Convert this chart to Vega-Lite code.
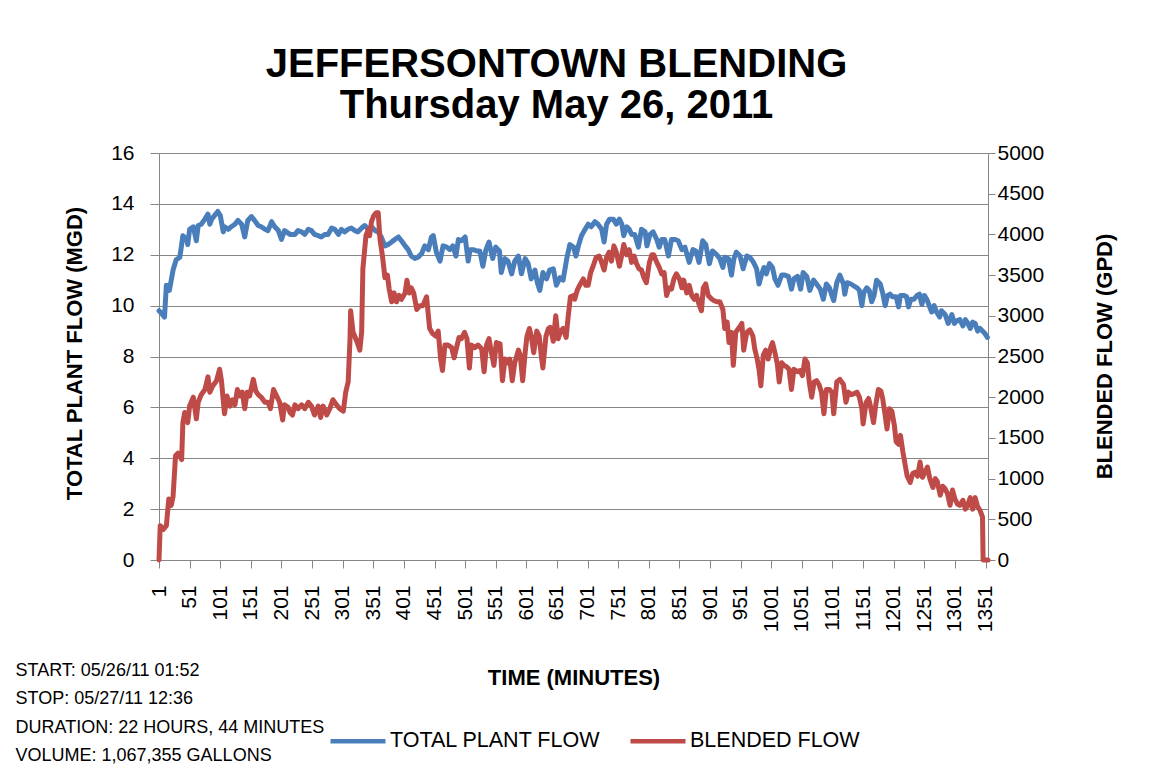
{
  "$schema": "https://vega.github.io/schema/vega-lite/v6.json",
  "width": 829,
  "height": 407,
  "autosize": {"type": "none"},
  "padding": {"left": 159, "top": 153, "right": 167, "bottom": 212},
  "background": "white",
  "config": {"view": {"stroke": null}, "font": "Liberation Sans"},
  "title": {
    "text": ["JEFFERSONTOWN BLENDING", "Thursday May 26, 2011"],
    "font": "Liberation Sans",
    "fontSize": 40,
    "fontWeight": "bold",
    "color": "#000000",
    "anchor": "middle",
    "frame": "group",
    "dx": -17,
    "lineHeight": 41,
    "offset": 16
  },
  "datasets": {
    "plant": [
      {"minute":1,"flow":9.8},{"minute":5,"flow":9.7},{"minute":10,"flow":9.55},{"minute":13,"flow":10.8},{"minute":18,"flow":10.6},{"minute":24,"flow":11.4},{"minute":29,"flow":11.8},{"minute":35,"flow":11.9},{"minute":38,"flow":12.4},{"minute":40,"flow":12.75},{"minute":46,"flow":12.6},{"minute":48,"flow":12.4},{"minute":51,"flow":13.0},{"minute":57,"flow":13.1},{"minute":62,"flow":12.55},{"minute":65,"flow":13.15},{"minute":70,"flow":13.2},{"minute":76,"flow":13.4},{"minute":81,"flow":13.6},{"minute":84,"flow":13.2},{"minute":87,"flow":13.4},{"minute":92,"flow":13.55},{"minute":97,"flow":13.7},{"minute":101,"flow":13.55},{"minute":106,"flow":12.9},{"minute":108,"flow":13.1},{"minute":114,"flow":13.0},{"minute":119,"flow":13.1},{"minute":125,"flow":13.2},{"minute":130,"flow":13.35},{"minute":136,"flow":13.2},{"minute":141,"flow":12.7},{"minute":146,"flow":13.35},{"minute":152,"flow":13.5},{"minute":157,"flow":13.35},{"minute":163,"flow":13.15},{"minute":168,"flow":13.1},{"minute":174,"flow":13.0},{"minute":179,"flow":12.95},{"minute":185,"flow":13.3},{"minute":190,"flow":13.1},{"minute":196,"flow":12.95},{"minute":201,"flow":12.6},{"minute":206,"flow":12.95},{"minute":215,"flow":12.8},{"minute":223,"flow":12.8},{"minute":228,"flow":12.95},{"minute":234,"flow":12.9},{"minute":239,"flow":12.8},{"minute":245,"flow":13.0},{"minute":250,"flow":12.95},{"minute":255,"flow":12.8},{"minute":261,"flow":12.75},{"minute":266,"flow":12.7},{"minute":272,"flow":12.8},{"minute":277,"flow":12.8},{"minute":283,"flow":13.05},{"minute":288,"flow":13.0},{"minute":294,"flow":12.8},{"minute":299,"flow":13.0},{"minute":304,"flow":12.9},{"minute":310,"flow":13.0},{"minute":315,"flow":13.05},{"minute":321,"flow":12.95},{"minute":326,"flow":12.9},{"minute":332,"flow":13.05},{"minute":337,"flow":13.15},{"minute":343,"flow":13.0},{"minute":348,"flow":13.1},{"minute":354,"flow":12.95},{"minute":359,"flow":12.9},{"minute":364,"flow":12.7},{"minute":370,"flow":12.35},{"minute":375,"flow":12.4},{"minute":381,"flow":12.5},{"minute":386,"flow":12.6},{"minute":392,"flow":12.7},{"minute":397,"flow":12.55},{"minute":403,"flow":12.35},{"minute":408,"flow":12.2},{"minute":413,"flow":11.95},{"minute":419,"flow":11.85},{"minute":424,"flow":11.9},{"minute":430,"flow":12.05},{"minute":435,"flow":12.35},{"minute":441,"flow":12.2},{"minute":446,"flow":12.7},{"minute":449,"flow":12.75},{"minute":454,"flow":12.1},{"minute":460,"flow":11.75},{"minute":465,"flow":12.35},{"minute":471,"flow":12.3},{"minute":476,"flow":12.2},{"minute":481,"flow":12.35},{"minute":486,"flow":11.95},{"minute":490,"flow":12.6},{"minute":495,"flow":12.55},{"minute":501,"flow":12.7},{"minute":506,"flow":11.75},{"minute":509,"flow":12.2},{"minute":514,"flow":12.2},{"minute":520,"flow":12.15},{"minute":525,"flow":12.15},{"minute":530,"flow":11.55},{"minute":535,"flow":12.2},{"minute":540,"flow":12.5},{"minute":546,"flow":11.85},{"minute":551,"flow":12.3},{"minute":557,"flow":12.15},{"minute":560,"flow":11.3},{"minute":566,"flow":11.85},{"minute":571,"flow":11.75},{"minute":577,"flow":11.25},{"minute":582,"flow":11.75},{"minute":588,"flow":11.95},{"minute":593,"flow":11.25},{"minute":599,"flow":11.85},{"minute":604,"flow":11.65},{"minute":609,"flow":11.05},{"minute":615,"flow":11.4},{"minute":619,"flow":10.9},{"minute":623,"flow":10.6},{"minute":628,"flow":11.3},{"minute":634,"flow":11.05},{"minute":639,"flow":11.4},{"minute":645,"flow":11.45},{"minute":650,"flow":10.8},{"minute":656,"flow":11.1},{"minute":661,"flow":11.0},{"minute":667,"flow":11.85},{"minute":672,"flow":12.4},{"minute":678,"flow":12.3},{"minute":682,"flow":11.95},{"minute":686,"flow":12.35},{"minute":691,"flow":12.75},{"minute":697,"flow":13.0},{"minute":702,"flow":13.2},{"minute":707,"flow":13.1},{"minute":713,"flow":13.3},{"minute":718,"flow":13.2},{"minute":724,"flow":13.0},{"minute":728,"flow":12.5},{"minute":732,"flow":13.2},{"minute":737,"flow":13.4},{"minute":743,"flow":13.4},{"minute":748,"flow":13.2},{"minute":753,"flow":13.4},{"minute":757,"flow":13.2},{"minute":760,"flow":12.75},{"minute":765,"flow":13.1},{"minute":769,"flow":13.0},{"minute":773,"flow":12.8},{"minute":778,"flow":12.8},{"minute":784,"flow":12.3},{"minute":789,"flow":13.0},{"minute":795,"flow":12.9},{"minute":798,"flow":12.35},{"minute":803,"flow":12.8},{"minute":808,"flow":12.9},{"minute":814,"flow":12.6},{"minute":818,"flow":12.3},{"minute":822,"flow":12.6},{"minute":827,"flow":12.6},{"minute":833,"flow":11.95},{"minute":838,"flow":12.6},{"minute":844,"flow":12.6},{"minute":849,"flow":12.55},{"minute":855,"flow":12.2},{"minute":860,"flow":12.3},{"minute":867,"flow":11.7},{"minute":873,"flow":12.2},{"minute":878,"flow":12.15},{"minute":883,"flow":11.7},{"minute":889,"flow":12.55},{"minute":894,"flow":12.4},{"minute":900,"flow":11.65},{"minute":905,"flow":12.15},{"minute":912,"flow":12.0},{"minute":917,"flow":11.85},{"minute":922,"flow":11.5},{"minute":925,"flow":11.9},{"minute":931,"flow":11.85},{"minute":936,"flow":11.2},{"minute":940,"flow":11.85},{"minute":944,"flow":12.1},{"minute":950,"flow":11.95},{"minute":955,"flow":11.45},{"minute":961,"flow":11.95},{"minute":966,"flow":11.9},{"minute":972,"flow":11.7},{"minute":977,"flow":11.45},{"minute":981,"flow":10.85},{"minute":985,"flow":11.2},{"minute":989,"flow":11.5},{"minute":993,"flow":11.25},{"minute":998,"flow":11.65},{"minute":1003,"flow":11.5},{"minute":1007,"flow":11.05},{"minute":1012,"flow":10.8},{"minute":1018,"flow":11.2},{"minute":1023,"flow":11.2},{"minute":1029,"flow":11.15},{"minute":1034,"flow":10.65},{"minute":1038,"flow":11.05},{"minute":1044,"flow":11.15},{"minute":1049,"flow":10.65},{"minute":1053,"flow":11.3},{"minute":1059,"flow":11.15},{"minute":1064,"flow":10.6},{"minute":1070,"flow":11.0},{"minute":1075,"flow":10.85},{"minute":1081,"flow":10.65},{"minute":1086,"flow":10.25},{"minute":1091,"flow":10.85},{"minute":1096,"flow":10.7},{"minute":1100,"flow":10.4},{"minute":1103,"flow":10.2},{"minute":1108,"flow":10.9},{"minute":1113,"flow":11.2},{"minute":1119,"flow":10.85},{"minute":1121,"flow":10.45},{"minute":1125,"flow":10.9},{"minute":1131,"flow":10.85},{"minute":1141,"flow":10.7},{"minute":1145,"flow":10.6},{"minute":1149,"flow":10.0},{"minute":1152,"flow":10.5},{"minute":1157,"flow":10.7},{"minute":1161,"flow":10.6},{"minute":1165,"flow":10.15},{"minute":1169,"flow":10.4},{"minute":1173,"flow":11.0},{"minute":1179,"flow":10.85},{"minute":1183,"flow":10.5},{"minute":1187,"flow":10.0},{"minute":1191,"flow":10.4},{"minute":1195,"flow":10.45},{"minute":1199,"flow":10.35},{"minute":1205,"flow":10.35},{"minute":1209,"flow":9.95},{"minute":1212,"flow":10.4},{"minute":1218,"flow":10.4},{"minute":1222,"flow":10.35},{"minute":1225,"flow":9.95},{"minute":1229,"flow":10.25},{"minute":1234,"flow":10.25},{"minute":1239,"flow":10.4},{"minute":1243,"flow":10.45},{"minute":1247,"flow":10.05},{"minute":1251,"flow":10.4},{"minute":1255,"flow":10.25},{"minute":1259,"flow":10.0},{"minute":1263,"flow":9.75},{"minute":1267,"flow":10.0},{"minute":1271,"flow":9.75},{"minute":1276,"flow":9.55},{"minute":1279,"flow":9.8},{"minute":1285,"flow":9.65},{"minute":1290,"flow":9.3},{"minute":1296,"flow":9.65},{"minute":1300,"flow":9.3},{"minute":1304,"flow":9.4},{"minute":1309,"flow":9.45},{"minute":1314,"flow":9.2},{"minute":1318,"flow":9.45},{"minute":1321,"flow":9.35},{"minute":1326,"flow":9.1},{"minute":1330,"flow":9.35},{"minute":1334,"flow":9.3},{"minute":1338,"flow":9.0},{"minute":1342,"flow":9.1},{"minute":1346,"flow":9.0},{"minute":1350,"flow":8.9},{"minute":1354,"flow":8.75}
    ],
    "blended": [
      {"minute":1,"flow":0},{"minute":3,"flow":422},{"minute":8,"flow":375},{"minute":13,"flow":422},{"minute":17,"flow":750},{"minute":21,"flow":672},{"minute":24,"flow":781},{"minute":28,"flow":1281},{"minute":32,"flow":1312},{"minute":38,"flow":1234},{"minute":40,"flow":1688},{"minute":43,"flow":1812},{"minute":48,"flow":1688},{"minute":51,"flow":1891},{"minute":57,"flow":2000},{"minute":62,"flow":1734},{"minute":65,"flow":1938},{"minute":70,"flow":2031},{"minute":76,"flow":2094},{"minute":81,"flow":2250},{"minute":84,"flow":2062},{"minute":89,"flow":2141},{"minute":95,"flow":2203},{"minute":100,"flow":2344},{"minute":103,"flow":2203},{"minute":108,"flow":1797},{"minute":112,"flow":2016},{"minute":117,"flow":1891},{"minute":121,"flow":1969},{"minute":125,"flow":1906},{"minute":129,"flow":2094},{"minute":133,"flow":2016},{"minute":137,"flow":2062},{"minute":141,"flow":1859},{"minute":145,"flow":2062},{"minute":149,"flow":2016},{"minute":155,"flow":2219},{"minute":159,"flow":2078},{"minute":163,"flow":2031},{"minute":168,"flow":2000},{"minute":174,"flow":1938},{"minute":179,"flow":1938},{"minute":183,"flow":1859},{"minute":188,"flow":2094},{"minute":193,"flow":2016},{"minute":198,"flow":1938},{"minute":203,"flow":1719},{"minute":206,"flow":1906},{"minute":212,"flow":1875},{"minute":215,"flow":1812},{"minute":219,"flow":1781},{"minute":223,"flow":1906},{"minute":228,"flow":1859},{"minute":234,"flow":1906},{"minute":239,"flow":1859},{"minute":245,"flow":1938},{"minute":250,"flow":1891},{"minute":255,"flow":1781},{"minute":261,"flow":1891},{"minute":265,"flow":1750},{"minute":269,"flow":1891},{"minute":275,"flow":1781},{"minute":280,"flow":1859},{"minute":285,"flow":1969},{"minute":291,"flow":1906},{"minute":296,"flow":1859},{"minute":302,"flow":1828},{"minute":306,"flow":2062},{"minute":310,"flow":2188},{"minute":313,"flow":2719},{"minute":314,"flow":3062},{"minute":318,"flow":2797},{"minute":324,"flow":2688},{"minute":329,"flow":2578},{"minute":332,"flow":2797},{"minute":334,"flow":3578},{"minute":339,"flow":3984},{"minute":343,"flow":4062},{"minute":345,"flow":3984},{"minute":348,"flow":4156},{"minute":352,"flow":4234},{"minute":356,"flow":4266},{"minute":359,"flow":4266},{"minute":362,"flow":3938},{"minute":366,"flow":3734},{"minute":370,"flow":3469},{"minute":374,"flow":3500},{"minute":377,"flow":3328},{"minute":381,"flow":3172},{"minute":385,"flow":3281},{"minute":389,"flow":3172},{"minute":393,"flow":3250},{"minute":397,"flow":3203},{"minute":403,"flow":3281},{"minute":406,"flow":3438},{"minute":410,"flow":3281},{"minute":413,"flow":3344},{"minute":417,"flow":3281},{"minute":422,"flow":3078},{"minute":427,"flow":3125},{"minute":432,"flow":3125},{"minute":438,"flow":3234},{"minute":441,"flow":3000},{"minute":443,"flow":2844},{"minute":448,"flow":2781},{"minute":453,"flow":2750},{"minute":457,"flow":2812},{"minute":461,"flow":2469},{"minute":464,"flow":2328},{"minute":468,"flow":2641},{"minute":473,"flow":2641},{"minute":479,"flow":2609},{"minute":483,"flow":2484},{"minute":487,"flow":2609},{"minute":491,"flow":2734},{"minute":495,"flow":2719},{"minute":500,"flow":2797},{"minute":504,"flow":2719},{"minute":508,"flow":2359},{"minute":511,"flow":2641},{"minute":517,"flow":2609},{"minute":522,"flow":2641},{"minute":528,"flow":2594},{"minute":532,"flow":2312},{"minute":536,"flow":2641},{"minute":540,"flow":2719},{"minute":544,"flow":2547},{"minute":548,"flow":2391},{"minute":552,"flow":2672},{"minute":558,"flow":2656},{"minute":562,"flow":2203},{"minute":566,"flow":2469},{"minute":570,"flow":2422},{"minute":574,"flow":2469},{"minute":578,"flow":2203},{"minute":582,"flow":2422},{"minute":588,"flow":2578},{"minute":591,"flow":2516},{"minute":595,"flow":2203},{"minute":599,"flow":2547},{"minute":602,"flow":2750},{"minute":606,"flow":2844},{"minute":609,"flow":2750},{"minute":613,"flow":2547},{"minute":618,"flow":2812},{"minute":622,"flow":2750},{"minute":626,"flow":2469},{"minute":628,"flow":2359},{"minute":633,"flow":2750},{"minute":637,"flow":2844},{"minute":640,"flow":2859},{"minute":645,"flow":2688},{"minute":649,"flow":3000},{"minute":653,"flow":2719},{"minute":657,"flow":2812},{"minute":661,"flow":2844},{"minute":666,"flow":2734},{"minute":669,"flow":2969},{"minute":673,"flow":3234},{"minute":678,"flow":3250},{"minute":680,"flow":3203},{"minute":684,"flow":3312},{"minute":688,"flow":3375},{"minute":694,"flow":3453},{"minute":698,"flow":3375},{"minute":702,"flow":3375},{"minute":706,"flow":3531},{"minute":710,"flow":3609},{"minute":715,"flow":3719},{"minute":720,"flow":3734},{"minute":724,"flow":3656},{"minute":728,"flow":3562},{"minute":732,"flow":3719},{"minute":736,"flow":3781},{"minute":740,"flow":3672},{"minute":744,"flow":3859},{"minute":748,"flow":3781},{"minute":753,"flow":3609},{"minute":757,"flow":3750},{"minute":760,"flow":3875},{"minute":765,"flow":3750},{"minute":769,"flow":3812},{"minute":773,"flow":3656},{"minute":777,"flow":3734},{"minute":781,"flow":3641},{"minute":785,"flow":3578},{"minute":789,"flow":3562},{"minute":793,"flow":3469},{"minute":797,"flow":3406},{"minute":802,"flow":3656},{"minute":806,"flow":3750},{"minute":809,"flow":3750},{"minute":814,"flow":3656},{"minute":818,"flow":3594},{"minute":822,"flow":3516},{"minute":826,"flow":3531},{"minute":830,"flow":3250},{"minute":834,"flow":3344},{"minute":838,"flow":3328},{"minute":842,"flow":3453},{"minute":846,"flow":3516},{"minute":851,"flow":3453},{"minute":855,"flow":3344},{"minute":858,"flow":3438},{"minute":863,"flow":3281},{"minute":867,"flow":3375},{"minute":871,"flow":3250},{"minute":875,"flow":3203},{"minute":879,"flow":3250},{"minute":883,"flow":3141},{"minute":887,"flow":3062},{"minute":890,"flow":3344},{"minute":894,"flow":3391},{"minute":898,"flow":3250},{"minute":904,"flow":3203},{"minute":907,"flow":3188},{"minute":912,"flow":3172},{"minute":917,"flow":3172},{"minute":922,"flow":3078},{"minute":925,"flow":2844},{"minute":929,"flow":2922},{"minute":932,"flow":2672},{"minute":936,"flow":2797},{"minute":939,"flow":2391},{"minute":943,"flow":2797},{"minute":949,"flow":2859},{"minute":953,"flow":2906},{"minute":956,"flow":2578},{"minute":961,"flow":2797},{"minute":966,"flow":2828},{"minute":971,"flow":2750},{"minute":974,"flow":2594},{"minute":978,"flow":2469},{"minute":981,"flow":2344},{"minute":984,"flow":2141},{"minute":988,"flow":2516},{"minute":992,"flow":2578},{"minute":996,"flow":2469},{"minute":1000,"flow":2609},{"minute":1003,"flow":2672},{"minute":1007,"flow":2547},{"minute":1011,"flow":2406},{"minute":1014,"flow":2188},{"minute":1018,"flow":2422},{"minute":1022,"flow":2391},{"minute":1026,"flow":2375},{"minute":1030,"flow":2344},{"minute":1034,"flow":2094},{"minute":1038,"flow":2344},{"minute":1044,"flow":2312},{"minute":1048,"flow":2328},{"minute":1052,"flow":2266},{"minute":1056,"flow":2469},{"minute":1060,"flow":2422},{"minute":1063,"flow":2188},{"minute":1067,"flow":2000},{"minute":1071,"flow":2188},{"minute":1075,"flow":2203},{"minute":1079,"flow":2156},{"minute":1083,"flow":2062},{"minute":1087,"flow":1797},{"minute":1091,"flow":2094},{"minute":1096,"flow":2094},{"minute":1100,"flow":2062},{"minute":1103,"flow":1797},{"minute":1108,"flow":2188},{"minute":1113,"flow":2219},{"minute":1119,"flow":2156},{"minute":1123,"flow":1938},{"minute":1127,"flow":2062},{"minute":1132,"flow":2031},{"minute":1141,"flow":2062},{"minute":1145,"flow":2000},{"minute":1149,"flow":1859},{"minute":1151,"flow":1672},{"minute":1156,"flow":1938},{"minute":1160,"flow":1984},{"minute":1163,"flow":1891},{"minute":1168,"flow":1688},{"minute":1172,"flow":1922},{"minute":1176,"flow":2094},{"minute":1180,"flow":2078},{"minute":1183,"flow":1984},{"minute":1187,"flow":1781},{"minute":1190,"flow":1609},{"minute":1194,"flow":1859},{"minute":1198,"flow":1828},{"minute":1202,"flow":1656},{"minute":1205,"flow":1453},{"minute":1209,"flow":1422},{"minute":1212,"flow":1531},{"minute":1216,"flow":1328},{"minute":1220,"flow":1156},{"minute":1223,"flow":1031},{"minute":1228,"flow":953},{"minute":1232,"flow":1062},{"minute":1236,"flow":1078},{"minute":1240,"flow":1031},{"minute":1244,"flow":1203},{"minute":1248,"flow":1016},{"minute":1252,"flow":1078},{"minute":1256,"flow":1141},{"minute":1260,"flow":1000},{"minute":1265,"flow":891},{"minute":1269,"flow":1000},{"minute":1272,"flow":969},{"minute":1277,"flow":797},{"minute":1281,"flow":906},{"minute":1285,"flow":875},{"minute":1289,"flow":812},{"minute":1293,"flow":672},{"minute":1297,"flow":859},{"minute":1301,"flow":750},{"minute":1305,"flow":688},{"minute":1309,"flow":672},{"minute":1314,"flow":734},{"minute":1318,"flow":625},{"minute":1321,"flow":656},{"minute":1326,"flow":766},{"minute":1330,"flow":625},{"minute":1334,"flow":766},{"minute":1338,"flow":656},{"minute":1342,"flow":609},{"minute":1345,"flow":547},{"minute":1346,"flow":531},{"minute":1347,"flow":0},{"minute":1355,"flow":0}
    ]
  },
  "layer": [
    {
      "data": {"name": "plant"},
      "mark": {"type": "line", "strokeWidth": 5, "strokeJoin": "round", "strokeCap": "round"},
      "encoding": {
        "x": {
          "field": "minute", "type": "quantitative",
          "scale": {"domain": [1, 1355], "nice": false, "zero": false},
          "axis": {
            "orient": "bottom",
            "values": [1,51,101,151,201,251,301,351,401,451,501,551,601,651,701,751,801,851,901,951,1001,1051,1101,1151,1201,1251,1301,1351],
            "format": "d",
            "labelAngle": -90,
            "labelAlign": "right",
            "labelBaseline": "middle",
            "labelFont": "Liberation Sans",
            "labelFontSize": 21,
            "labelColor": "#000000",
            "labelPadding": 17,
            "labelOverlap": false,
            "labelFlush": false,
            "tickSize": 8,
            "tickColor": "#868686",
            "domainColor": "#868686",
            "grid": false,
            "title": "TIME (MINUTES)",
            "titleFont": "Liberation Sans",
            "titleFontSize": 22,
            "titleFontWeight": "bold",
            "titleColor": "#000000",
            "titleBaseline": "alphabetic",
            "titleY": 124
          }
        },
        "y": {
          "field": "flow", "type": "quantitative",
          "scale": {"domain": [0, 16], "nice": false},
          "axis": {
            "orient": "left",
            "values": [0,2,4,6,8,10,12,14,16],
            "format": "d",
            "labelFont": "Liberation Sans",
            "labelFontSize": 21,
            "labelColor": "#000000",
            "labelPadding": 16,
            "tickSize": 9,
            "tickColor": "#868686",
            "domainColor": "#868686",
            "grid": true,
            "gridColor": "#868686",
            "gridWidth": 1,
            "title": "TOTAL PLANT FLOW (MGD)",
            "titleFont": "Liberation Sans",
            "titleFontSize": 22,
            "titleFontWeight": "bold",
            "titleColor": "#000000",
            "titleAngle": -90,
            "titleAlign": "center",
            "titleBaseline": "alphabetic",
            "titleX": -78,
            "titleY": 200
          }
        },
        "color": {
          "datum": "TOTAL PLANT FLOW", "type": "nominal",
          "scale": {"domain": ["TOTAL PLANT FLOW", "BLENDED FLOW"], "range": ["#4A7EBB", "#BE4B48"]},
          "legend": {
            "orient": "none",
            "direction": "horizontal",
            "legendX": 169,
            "legendY": 558,
            "title": null,
            "symbolType": "stroke",
            "symbolSize": 3025,
            "symbolStrokeWidth": 4.5,
            "labelFont": "Liberation Sans",
            "labelFontSize": 21.5,
            "labelColor": "#000000",
            "labelOffset": 2,
            "labelLimit": 400,
            "columnPadding": 20
          }
        }
      }
    },
    {
      "data": {"name": "blended"},
      "mark": {"type": "line", "strokeWidth": 5, "strokeJoin": "round", "strokeCap": "round"},
      "encoding": {
        "x": {
          "field": "minute", "type": "quantitative",
          "scale": {"domain": [1, 1355], "nice": false, "zero": false},
          "axis": {
            "orient": "top",
            "domain": false,
            "ticks": false,
            "labels": false,
            "grid": false,
            "title": ["START: 05/26/11 01:52", "STOP: 05/27/11 12:36", "DURATION: 22 HOURS, 44 MINUTES", "VOLUME: 1,067,355 GALLONS"],
            "titleFont": "Liberation Sans",
            "titleFontSize": 18,
            "titleFontWeight": "normal",
            "titleColor": "#000000",
            "titleAlign": "left",
            "titleAnchor": "start",
            "titleBaseline": "alphabetic",
            "titleLineHeight": 28.5,
            "titleLimit": 0,
            "titleX": -144,
            "titleY": 522
          }
        },
        "y": {
          "field": "flow", "type": "quantitative",
          "scale": {"domain": [0, 5000], "nice": false},
          "axis": {
            "orient": "right",
            "values": [0,500,1000,1500,2000,2500,3000,3500,4000,4500,5000],
            "format": "d",
            "labelFont": "Liberation Sans",
            "labelFontSize": 21,
            "labelColor": "#000000",
            "labelPadding": 2,
            "tickSize": 7,
            "tickColor": "#868686",
            "domainColor": "#868686",
            "grid": false,
            "title": "BLENDED FLOW (GPD)",
            "titleFont": "Liberation Sans",
            "titleFontSize": 22,
            "titleFontWeight": "bold",
            "titleColor": "#000000",
            "titleAngle": -90,
            "titleAlign": "center",
            "titleBaseline": "alphabetic",
            "titleX": 123,
            "titleY": 203
          }
        },
        "color": {"datum": "BLENDED FLOW", "type": "nominal"}
      }
    }
  ],
  "resolve": {"scale": {"y": "independent", "x": "independent"}}
}
